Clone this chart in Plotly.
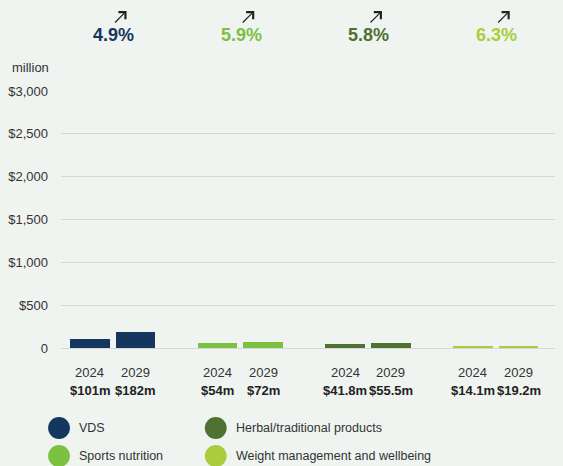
import plotly.graph_objects as go

# Market segments, forecast years and values (US$ million)
segments = ["VDS", "Sports nutrition", "Herbal/traditional products", "Weight management and wellbeing"]
years = ["2024", "2029"]
values_2024 = [101, 54, 41.8, 14.1]
values_2029 = [182, 72, 55.5, 19.2]
value_labels_2024 = ["$101m", "$54m", "$41.8m", "$14.1m"]
value_labels_2029 = ["$182m", "$72m", "$55.5m", "$19.2m"]
growth_labels = ["4.9%", "5.9%", "5.8%", "6.3%"]
colors = ["#15375f", "#7cc142", "#4f7131", "#a9cd3d"]
y_ticks = [0, 500, 1000, 1500, 2000, 2500, 3000]
y_tick_labels = ["0", "$500", "$1,000", "$1,500", "$2,000", "$2,500", "$3,000"]

GROUP_STEP = 2.8  # distance between segment groups, in bar slots
FONT = "Liberation Sans, Arial, sans-serif"
TEXT = "#333333"
BG = "#eff4f0"

W, H = 563, 466
PLOT_L, PLOT_R, PLOT_T, PLOT_B = 57, 555, 91, 348

xs, ys, cs, year_text, value_text = [], [], [], [], []
for g, seg in enumerate(segments):
    for k, (vals, labs) in enumerate([(values_2024, value_labels_2024), (values_2029, value_labels_2029)]):
        xs.append(g * GROUP_STEP + k)
        ys.append(vals[g])
        cs.append(colors[g])
        year_text.append(years[k])
        value_text.append(labs[g])

fig = go.Figure()
fig.add_trace(go.Bar(x=xs, y=ys, marker=dict(color=cs, line=dict(width=0)), width=0.87,
                     hoverinfo="skip", showlegend=False))

annotations = []
# year and value labels beneath each bar
for x, yr, vt in zip(xs, year_text, value_text):
    annotations.append(dict(x=x, y=0, xref="x", yref="y", text=yr, showarrow=False,
                            yanchor="middle", yshift=-24, font=dict(family=FONT, size=13, color=TEXT)))
    annotations.append(dict(x=x, y=0, xref="x", yref="y", text="<b>" + vt + "</b>", showarrow=False,
                            yanchor="middle", yshift=-42, font=dict(family=FONT, size=13, color="#222222")))

# growth rates with an up-right arrow over each group
for g, (lab, col) in enumerate(zip(growth_labels, colors)):
    cx = g * GROUP_STEP + 0.5
    annotations.append(dict(x=cx, y=1, xref="x", yref="paper", text="<b>" + lab + "</b>",
                            showarrow=False, yanchor="middle", yshift=56, xshift=1,
                            font=dict(family=FONT, size=18, color=col)))
    annotations.append(dict(x=cx, y=1, xref="x", yref="paper", text="", showarrow=True,
                            axref="pixel", ayref="pixel", ax=-13, ay=13,
                            xshift=14, yshift=80, arrowhead=4, arrowsize=1.6, arrowwidth=1.2,
                            arrowcolor="#222222"))

annotations.append(dict(x=0, y=1, xref="paper", yref="paper", text="million", showarrow=False,
                        xanchor="right", yanchor="middle", xshift=-10, yshift=24,
                        font=dict(family=FONT, size=13, color=TEXT)))

# legend drawn as circles with labels, two columns
legend_cols_px = [55, 213]
legend_rows_px = [428, 456]
shapes = []
pw, ph = PLOT_R - PLOT_L, PLOT_B - PLOT_T
for i, (seg, col) in enumerate(zip(segments, colors)):
    cxp = legend_cols_px[i // 2]
    cyp = legend_rows_px[i % 2]
    r = 11
    shapes.append(dict(type="circle", xref="paper", yref="paper",
                       x0=(cxp - r - PLOT_L) / pw, x1=(cxp + r - PLOT_L) / pw,
                       y0=(PLOT_B - cyp - r) / ph, y1=(PLOT_B - cyp + r) / ph,
                       fillcolor=col, line=dict(width=0)))
    annotations.append(dict(x=(cxp + 18 - PLOT_L) / pw, y=(PLOT_B - cyp) / ph,
                            xref="paper", yref="paper", text=seg, showarrow=False,
                            xanchor="left", yanchor="middle",
                            font=dict(family=FONT, size=12.5, color=TEXT)))

fig.update_layout(
    width=W, height=H,
    margin=dict(l=PLOT_L, r=W - PLOT_R, t=PLOT_T, b=H - PLOT_B),
    paper_bgcolor=BG, plot_bgcolor=BG,
    font=dict(family=FONT, size=13, color=TEXT),
    xaxis=dict(range=[-0.63, 10.2], showticklabels=False, showgrid=False, zeroline=False,
               ticks="", fixedrange=True),
    yaxis=dict(range=[0, 3000], tickvals=y_ticks, ticktext=y_tick_labels, showgrid=True,
               gridcolor="#d3d8d5", gridwidth=1, zeroline=True, zerolinecolor="#d3d8d5",
               zerolinewidth=1, ticks="", ticklabelstandoff=12,
               tickfont=dict(family=FONT, size=13, color=TEXT), fixedrange=True),
    annotations=annotations,
    shapes=shapes,
    bargap=0,
)

fig.write_html("out.html")
